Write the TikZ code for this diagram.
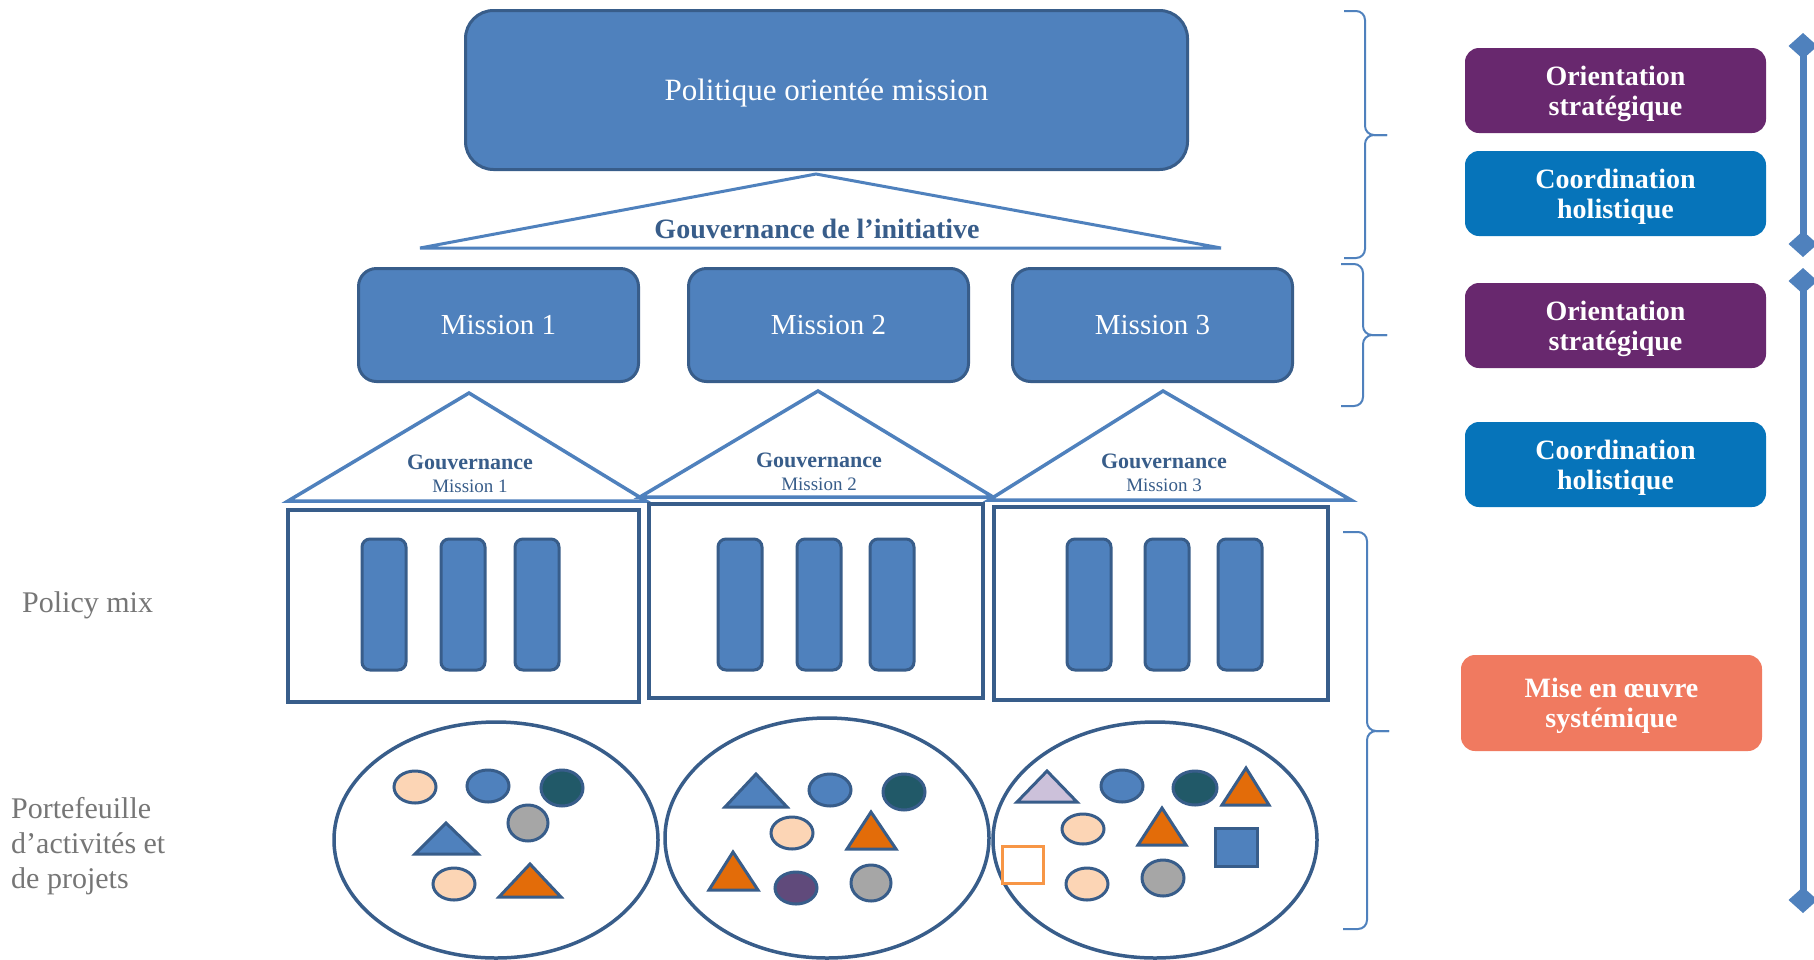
\documentclass[tikz,border=0pt]{standalone}
\usepackage{fontspec}
\setmainfont{Liberation Serif}
\usetikzlibrary{arrows.meta}

\definecolor{mblue}{RGB}{79,129,189}
\definecolor{mdark}{RGB}{56,93,138}
\definecolor{mpurple}{RGB}{104,40,110}
\definecolor{mcyan}{RGB}{6,116,186}
\definecolor{msalmon}{RGB}{240,122,96}
\definecolor{mpeach}{RGB}{252,213,181}
\definecolor{mteal}{RGB}{33,89,104}
\definecolor{mgrey}{RGB}{166,166,166}
\definecolor{morange}{RGB}{227,108,9}
\definecolor{mplum}{RGB}{96,74,123}
\definecolor{mlilac}{RGB}{204,193,218}
\definecolor{mamber}{RGB}{247,150,70}
\definecolor{mtext}{RGB}{118,118,118}

\newcommand{\boxstrut}{\rule{0pt}{26pt}}

\tikzset{
  bluebox/.style={draw=mdark, line width=3pt, fill=mblue, text=white, rounded corners=18pt, inner sep=0pt},
  sidebox/.style={rounded corners=14pt, text=white, font=\fontsize{28}{30}\selectfont\bfseries, align=center, minimum width=301pt, minimum height=85pt, inner sep=0pt},
  roof/.style={draw=mblue, line width=3.5pt, fill=white},
  mixbox/.style={draw=mdark, line width=3.5pt, fill=white},
  pillar/.style={draw=mdark, line width=3pt, fill=mblue, rounded corners=8pt},
  pool/.style={draw=mdark, line width=3.5pt, fill=white},
  item/.style={draw=mdark, line width=3pt},
  curly/.style={draw=mblue, line width=2pt, rounded corners=9pt},
  timeline/.style={draw=mblue, line width=7pt, arrows={Diamond[length=26pt,width=29pt]-Diamond[length=26pt,width=29pt]}},
  sidelabel/.style={text=mtext, font=\fontsize{30}{35}\selectfont, align=left, inner sep=0pt},
  govtitle/.style={text=mdark, font=\fontsize{22}{24}\selectfont\bfseries, inner sep=0pt, anchor=base},
  govsub/.style={text=mdark, font=\fontsize{19}{22}\selectfont, inner sep=0pt, anchor=base}
}

\begin{document}
\begin{tikzpicture}[x=1pt, y=-1pt]
  \useasboundingbox (0,0) rectangle (1814,959);
  \fill[white] (0,0) rectangle (1814,959);

  % initiative level
  \node[bluebox, rounded corners=28pt, minimum width=722pt, minimum height=159pt, text height=28pt, text depth=7pt, font=\fontsize{31}{36}\selectfont] (policy) at (826.5,90) {Politique orientée mission};
  \draw[roof, line width=3pt] (816,174) -- (1221,248) -- (420,248) -- cycle;
  \node[text=mdark, font=\fontsize{28}{30}\selectfont\bfseries] (gov) at (817,229) {Gouvernance de l’initiative};

  % missions
  \node[bluebox, minimum width=280pt, minimum height=113pt, font=\fontsize{29}{34}\selectfont] (m1) at (498.5,325) {Mission 1};
  \node[bluebox, minimum width=280pt, minimum height=113pt, font=\fontsize{29}{34}\selectfont] (m2) at (828.5,325) {Mission 2};
  \node[bluebox, minimum width=280pt, minimum height=113pt, font=\fontsize{29}{34}\selectfont] (m3) at (1152.5,325) {Mission 3};

  % roofs
  \draw[roof] (469,393) -- (646,501) -- (288,501) -- cycle;
  \draw[roof] (818,391) -- (993,497) -- (640,497) -- cycle;
  \draw[roof] (1163,391) -- (1351,500) -- (989,500) -- cycle;
  \node[govtitle] (g1) at (470,469) {Gouvernance};
  \node[govsub] (g1m) at (470,492) {Mission 1};
  \node[govtitle] (g2) at (819,467) {Gouvernance};
  \node[govsub] (g2m) at (819,490) {Mission 2};
  \node[govtitle] (g3) at (1164,468) {Gouvernance};
  \node[govsub] (g3m) at (1164,491) {Mission 3};

  % policy mix
  \draw[mixbox] (288,510) rectangle (639,702);
  \draw[mixbox] (649,504) rectangle (983,698);
  \draw[mixbox] (994,507) rectangle (1328,700);
  \foreach \x in {362,441,515,718,797,870,1067,1145,1218}
    \draw[pillar] (\x,539) rectangle ++(44,131);

  % portfolios
  \draw[pool] (496,840) ellipse [x radius=162, y radius=118];
  \draw[pool] (827,838) ellipse [x radius=162, y radius=120];
  \draw[pool] (1155,840) ellipse [x radius=162, y radius=118];

  \draw[item, fill=mpeach] (415,787) ellipse [x radius=21, y radius=16];
  \draw[item, fill=mblue] (488,786) ellipse [x radius=21, y radius=16];
  \draw[item, fill=mteal] (562,788) ellipse [x radius=21, y radius=18];
  \draw[item, fill=mgrey] (528,823) ellipse [x radius=20, y radius=18];
  \draw[item, fill=mblue] (446,823) -- (478,854) -- (415,854) -- cycle;
  \draw[item, fill=mpeach] (454,884) ellipse [x radius=21, y radius=16];
  \draw[item, fill=morange] (530,864) -- (561,897) -- (499,897) -- cycle;

  \draw[item, fill=mblue] (756,774) -- (787,807) -- (725,807) -- cycle;
  \draw[item, fill=mblue] (830,790) ellipse [x radius=21, y radius=16];
  \draw[item, fill=mteal] (904,792) ellipse [x radius=21, y radius=18];
  \draw[item, fill=mpeach] (792,833) ellipse [x radius=21, y radius=16];
  \draw[item, fill=morange] (871,812) -- (896,849) -- (847,849) -- cycle;
  \draw[item, fill=morange] (733,852) -- (758,890) -- (709,890) -- cycle;
  \draw[item, fill=mplum] (796,888) ellipse [x radius=21, y radius=16];
  \draw[item, fill=mgrey] (871,883) ellipse [x radius=20, y radius=18];

  \draw[item, fill=mlilac] (1047,771) -- (1077,802) -- (1017,802) -- cycle;
  \draw[item, fill=mblue] (1122,786) ellipse [x radius=21, y radius=16];
  \draw[item, fill=mteal] (1195,788) ellipse [x radius=22, y radius=17];
  \draw[item, fill=morange] (1246,768) -- (1269,805) -- (1222,805) -- cycle;
  \draw[item, fill=mpeach] (1083,829) ellipse [x radius=21, y radius=15];
  \draw[item, fill=morange] (1162,808) -- (1186,845) -- (1138,845) -- cycle;
  \draw[item, fill=mblue] (1215,828) rectangle (1257,866);
  \draw[draw=mamber, line width=3pt, fill=white] (1002,846) rectangle (1043,883);
  \draw[item, fill=mpeach] (1087,884) ellipse [x radius=21, y radius=16];
  \draw[item, fill=mgrey] (1163,878) ellipse [x radius=21, y radius=18];

  % left labels
  \node[sidelabel, anchor=base west] (mix) at (22,612) {Policy mix};
  \node[sidelabel, anchor=north west] (port) at (11,797) {Portefeuille\\d’activités et\\de projets};

  % braces
  \coordinate (b1a) at (1344,11);  \coordinate (b1b) at (1344,258); \coordinate (b1t) at (1387,135);
  \coordinate (b2a) at (1341,264); \coordinate (b2b) at (1341,406); \coordinate (b2t) at (1387,335);
  \coordinate (b3a) at (1343,532); \coordinate (b3b) at (1343,929); \coordinate (b3t) at (1389,731);
  \draw[curly] (b1a) -| ([xshift=-22pt]b1t) -- (b1t);
  \draw[curly] (b1b) -| ([xshift=-22pt]b1t) -- (b1t);
  \draw[curly] (b2a) -| ([xshift=-24pt]b2t) -- (b2t);
  \draw[curly] (b2b) -| ([xshift=-24pt]b2t) -- (b2t);
  \draw[curly] (b3a) -| ([xshift=-22pt]b3t) -- (b3t);
  \draw[curly] (b3b) -| ([xshift=-22pt]b3t) -- (b3t);

  % right column
  \node[sidebox, fill=mpurple] (os1) at (1615.5,90.5) {\boxstrut Orientation\\stratégique};
  \node[sidebox, fill=mcyan] (ch1) at (1615.5,193.5) {\boxstrut Coordination\\holistique};
  \node[sidebox, fill=mpurple] (os2) at (1615.5,325.5) {\boxstrut Orientation\\stratégique};
  \node[sidebox, fill=mcyan] (ch2) at (1615.5,464.5) {\boxstrut Coordination\\holistique};
  \node[sidebox, fill=msalmon, minimum height=96pt] (impl) at (1611.5,703) {\boxstrut Mise en œuvre\\systémique};

  \coordinate (t1a) at (1803,33);  \coordinate (t1b) at (1803,257);
  \coordinate (t2a) at (1803,268); \coordinate (t2b) at (1803,913);
  \draw[timeline] (t1a) -- (t1b);
  \draw[timeline] (t2a) -- (t2b);
\end{tikzpicture}
\end{document}
